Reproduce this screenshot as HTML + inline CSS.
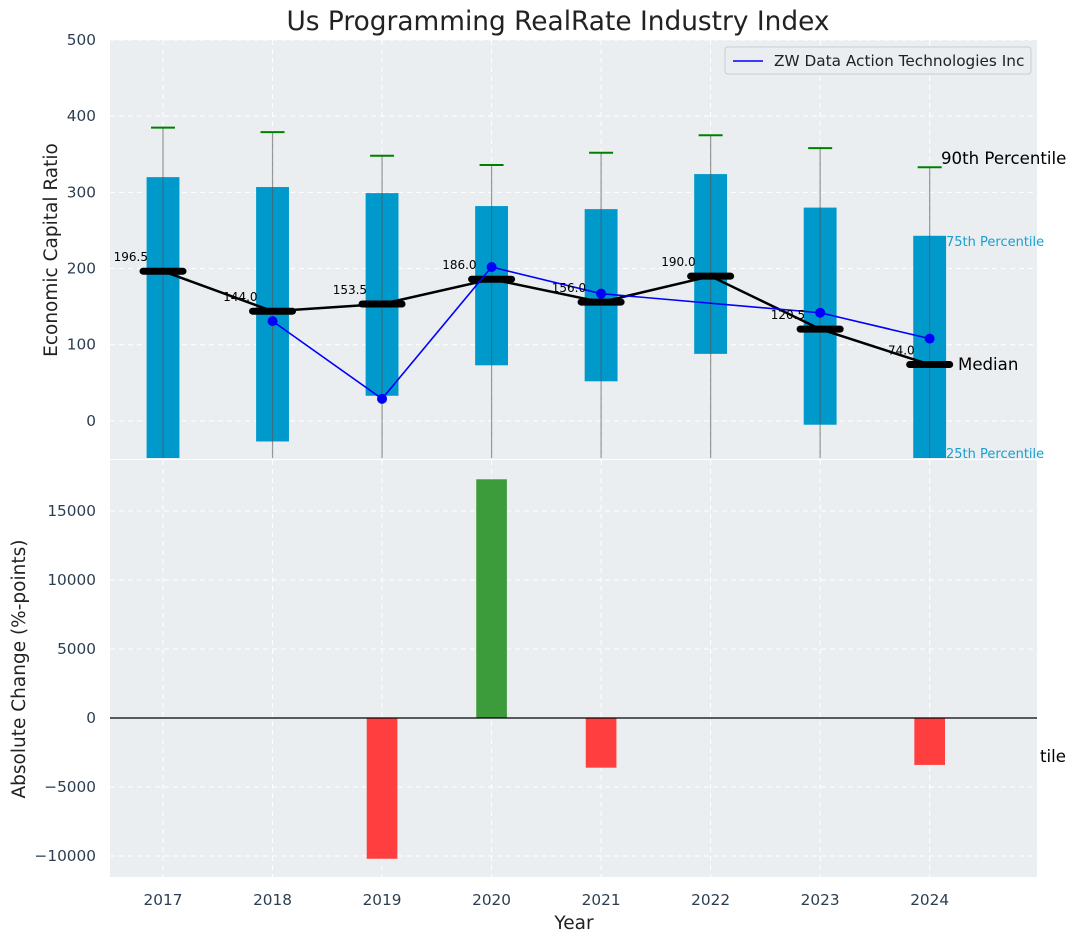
<!DOCTYPE html>
<html><head><meta charset="utf-8">
<style>
body{margin:0;background:#fff;}
svg{font-family:"DejaVu Sans","Liberation Sans",sans-serif;display:block;}
</style></head>
<body>
<svg id="chart" width="1076" height="942" viewBox="0 0 1076 942" xmlns="http://www.w3.org/2000/svg">
<text x="558" y="30" text-anchor="middle" font-size="26.4" fill="#222">Us Programming RealRate Industry Index</text>
<g id="topPanel"></g>
<g id="botPanel"></g>
</svg>
<script>
const years=[2017,2018,2019,2020,2021,2022,2023,2024];
const p25=[-80,-27,33,73,52,88,-5,-80];
const p75=[320,307,299,282,278,324,280,243];
const medians=[196.5,144.0,153.5,186.0,156.0,190.0,120.5,74.0];
const p90=[385,379,348,336,352,375,358,333];
const companyYears=[2018,2019,2020,2021,2023,2024];
const companyVals=[131,29,202,167,142,108];
const changeYears=[2019,2020,2021,2024];
const changeVals=[-10200,17300,-3600,-3400];
const topTicks=[0,100,200,300,400,500];
const botTicks=[-10000,-5000,0,5000,10000,15000];

const NS="http://www.w3.org/2000/svg";
function mk(parent,tag,attrs,text){const el=document.createElementNS(NS,tag);for(const k in attrs)el.setAttribute(k,attrs[k]);if(text!==undefined)el.textContent=text;parent.appendChild(el);return el;}
const L=110,R=1037;
const X=v=>L+(v-2016.516)/(2024.98-2016.516)*(R-L);
const T0=40,T1=459;const Yt=v=>T0+(500-v)/(500-(-50))*(T1-T0);
const B0=459,B1=877;const Yb=v=>B0+(18770-v)/(18770-(-11522))*(B1-B0);
const topG=document.getElementById('topPanel'),botG=document.getElementById('botPanel');
let e;
e=mk(topG,'rect',{x:L,y:T0,width:R-L,height:T1-T0,fill:'#eaeef0'});


mk(topG,'defs',{}).innerHTML='<clipPath id="ct"><rect x="110" y="40" width="927" height="418"/></clipPath><clipPath id="cb"><rect x="110" y="460" width="927" height="417"/></clipPath>';
const tg=mk(topG,'g',{'clip-path':'url(#ct)'});
topTicks.forEach(t=>{
 e=mk(tg,'line',{x1:L,x2:R,y1:Yt(t),y2:Yt(t),stroke:'#fff','stroke-dasharray':'5,4','stroke-width':1});
 
 
 e=mk(topG,'text',{x:96,y:Yt(t)+5,'text-anchor':'end','font-size':15.3,fill:'#2c3e50'},t);
 
 
});
years.forEach(y=>{
 e=mk(tg,'line',{x1:X(y),x2:X(y),y1:T0,y2:T1,stroke:'#fff','stroke-dasharray':'5,4'});
 
 
});
const bw=X(2017.15)-X(2016.85);
years.forEach((y,i)=>{
 e=mk(tg,'rect',{x:X(y)-bw/2,y:Yt(p75[i]),width:bw,height:Yt(p25[i])-Yt(p75[i]),fill:'#0099cc'});
 
 
 e=mk(tg,'line',{x1:X(y),x2:X(y),y1:Yt(p90[i]),y2:T1,stroke:'#555','stroke-opacity':0.6,'stroke-width':1.2});
 
 
 e=mk(tg,'line',{x1:X(y)-12,x2:X(y)+12,y1:Yt(p90[i]),y2:Yt(p90[i]),stroke:'#008000','stroke-width':2});
 
 
});
e=mk(tg,'polyline',{points:years.map((y,i)=>X(y)+','+Yt(medians[i])).join(' '),fill:'none',stroke:'#000','stroke-width':2.5});


years.forEach((y,i)=>{
 e=mk(tg,'line',{x1:X(y)-20,x2:X(y)+20,y1:Yt(medians[i]),y2:Yt(medians[i]),stroke:'#000','stroke-width':7,'stroke-linecap':'round'});
 
 
 e=mk(topG,'text',{x:X(y)-15,y:Yt(medians[i])-10,'text-anchor':'end','font-size':12,fill:'#000'},medians[i].toFixed(1));
 
 
});
e=mk(tg,'polyline',{points:companyYears.map((y,i)=>X(y)+','+Yt(companyVals[i])).join(' '),fill:'none',stroke:'#0000ff','stroke-width':1.6});


companyYears.forEach((y,i)=>{
 e=mk(tg,'circle',{cx:X(y),cy:Yt(companyVals[i]),r:5,fill:'#0000ff'});
 
 
});
e=mk(topG,'text',{x:941,y:164,'font-size':16.6,fill:'#000'},'90th Percentile');


e=mk(topG,'text',{x:946,y:246,'font-size':13,fill:'#1a9fd0'},'75th Percentile');


e=mk(topG,'text',{x:958,y:370,'font-size':16.6,fill:'#000'},'Median');


e=mk(topG,'text',{x:946,y:458,'font-size':13,fill:'#1a9fd0'},'25th Percentile');


e=mk(topG,'text',{x:1040,y:762,'font-size':16.6,fill:'#000'},'tile');


const lg=mk(topG,'g',{});


mk(lg,'rect',{x:725,y:47,width:306,height:27,rx:3,fill:'#eaeef0',stroke:'#ccc'});
mk(lg,'line',{x1:733,x2:763,y1:61,y2:61,stroke:'#0000ff','stroke-width':1.6});
e=mk(lg,'text',{x:774,y:66,'font-size':15.3,fill:'#222'},'ZW Data Action Technologies Inc');


e=mk(topG,'text',{x:0,y:0,transform:'translate(57,250) rotate(-90)','text-anchor':'middle','font-size':18.5,fill:'#222'},'Economic Capital Ratio');



e=mk(botG,'rect',{x:L,y:460,width:R-L,height:B1-460,fill:'#eaeef0'});


const bg=mk(botG,'g',{'clip-path':'url(#cb)'});
botTicks.forEach(t=>{
 e=mk(bg,'line',{x1:L,x2:R,y1:Yb(t),y2:Yb(t),stroke:'#fff','stroke-dasharray':'5,4'});
 
 
 e=mk(botG,'text',{x:96,y:Yb(t)+5,'text-anchor':'end','font-size':15.3,fill:'#2c3e50'},(t<0?'\u2212'+(-t):t));
 
 
});
years.forEach(y=>{
 e=mk(bg,'line',{x1:X(y),x2:X(y),y1:460,y2:B1,stroke:'#fff','stroke-dasharray':'5,4'});
 
 
 e=mk(botG,'text',{x:X(y),y:905,'text-anchor':'middle','font-size':15.3,fill:'#2c3e50'},y);
 
 
});
const cbw=X(2017.14)-X(2016.86);
changeYears.forEach((y,i)=>{
 const v=changeVals[i];
 e=mk(bg,'rect',{x:X(y)-cbw/2,y:Math.min(Yb(0),Yb(v)),width:cbw,height:Math.abs(Yb(v)-Yb(0)),fill:v>=0?'#3c9c3c':'#ff3f3f'});
 
 
});
e=mk(botG,'line',{x1:L,x2:R,y1:Yb(0),y2:Yb(0),stroke:'#000','stroke-width':1.2});


e=mk(botG,'text',{x:0,y:0,transform:'translate(25,669) rotate(-90)','text-anchor':'middle','font-size':18.5,fill:'#222'},'Absolute Change (%-points)');


e=mk(botG,'text',{x:574,y:929,'text-anchor':'middle','font-size':18.5,fill:'#222'},'Year');


</script>
</body></html>
